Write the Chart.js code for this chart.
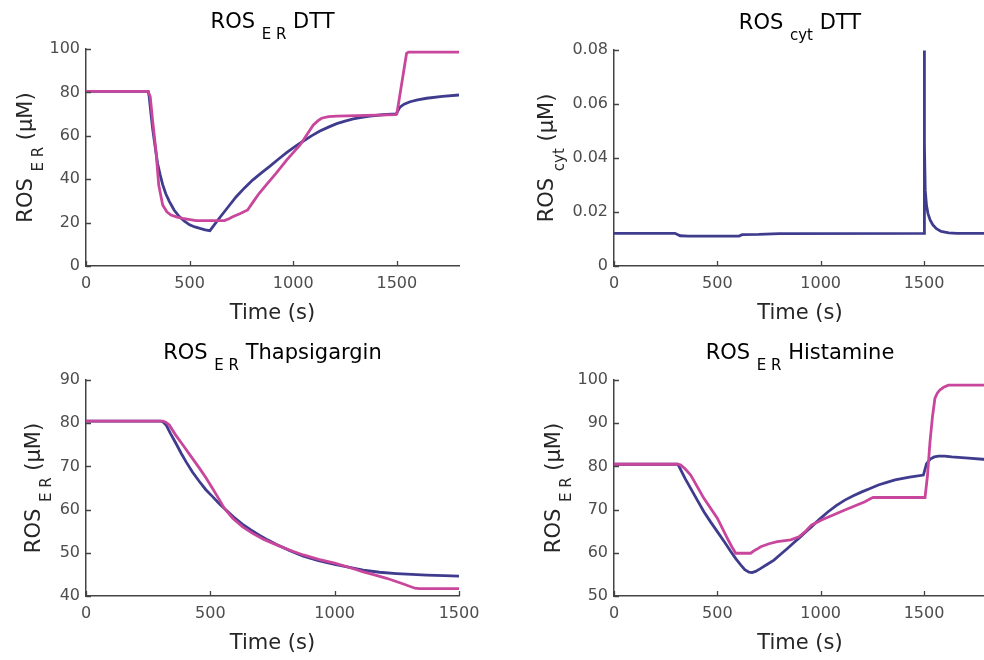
<!DOCTYPE html>
<html>
<head>
<meta charset="utf-8">
<script src="https://cdn.jsdelivr.net/npm/chart.js@4"></script>
<style>
  html, body { margin: 0; padding: 0; background: #fff; width: 984px; height: 660px; overflow: hidden; position: relative; }
  canvas { position: absolute; }
</style>
</head>
<body>
<canvas id="erDtt" width="492" height="330" style="left:0;top:0"></canvas>
<canvas id="cytDtt" width="520" height="330" style="left:492px;top:0"></canvas>
<canvas id="erThaps" width="492" height="330" style="left:0;top:330px"></canvas>
<canvas id="erHist" width="520" height="330" style="left:492px;top:330px"></canvas>
<script>
const BLUE = "#3f3c8e";
const PINK = "#c8469c";
const AXIS = "#444";

// ROS ER, DTT
const dttErBlueT = [0,300,305,314,322,330,338,346,358,370,385,402,425,450,475,500,525,550,575,598,643,680,724,765,804,845,888,928,968,1008,1049,1090,1129,1170,1210,1250,1290,1330,1370,1430,1497,1505,1515,1535,1564,1600,1644,1720,1800];
const dttErBlue  = [80.5,80.5,78,69.6,63,57.5,52,47,42,37.5,33.3,29.8,25.8,22.8,20.7,19,18,17.3,16.7,16.3,22,26.5,31.8,36,39.6,42.8,46,49.2,52.2,55,57.6,60.1,62.2,64,65.6,66.8,67.8,68.5,69.1,69.7,70.1,71.5,73.2,74.6,75.7,76.6,77.3,78.2,78.8];
const dttErPinkT = [0,300,310,322,338,351,370,390,410,440,466,531,668,690,708,745,780,810,836,875,917,968,1033,1097,1120,1137,1170,1210,1495,1500,1547,1556,1800];
const dttErPink  = [80.5,80.5,78,66.5,52.7,37.3,28.1,25,23.5,22.5,22,20.9,20.9,21.8,22.7,24.2,25.8,30,33.5,38,42.7,48.8,55.8,65,67,68.1,68.8,69.1,69.8,70.1,98,98.6,98.6];

// ROS cyt, DTT
const dttCytT = [0,295,320,360,590,605,620,700,800,1500,1501,1503,1506,1512,1519,1530,1543,1560,1583,1620,1660,1800];
const dttCyt  = [0.0121,0.0121,0.0112,0.0111,0.0111,0.0111,0.0116,0.0117,0.012,0.0121,0.0798,0.045,0.028,0.0225,0.0195,0.017,0.0152,0.0138,0.0128,0.0123,0.0121,0.0121];

// ROS ER, Thapsigargin
const thapsBlueT = [0,300,310,322,340,362,382,402,428,456,482,509,535,563,595,630,663,697,730,764,820,874,935,1000,1060,1115,1180,1249,1310,1370,1440,1500];
const thapsBlue  = [80.5,80.5,80.3,79.6,77.6,75.3,73.1,71.1,68.7,66.5,64.6,63,61.4,59.9,58.2,56.6,55.3,54.1,53,52,50.5,49.2,48.2,47.3,46.6,46,45.5,45.2,45,44.85,44.7,44.6];
const thapsPinkT = [0,310,322,335,360,389,420,456,483,509,533,556,590,630,670,715,764,820,874,935,1000,1060,1115,1160,1209,1265,1323,1340,1500];
const thapsPink  = [80.5,80.5,80.2,79.6,77.3,75,72.5,69.6,67.3,64.9,62.6,60.3,58,56,54.5,53.1,51.9,50.6,49.5,48.5,47.6,46.6,45.6,44.9,44.1,43,41.8,41.7,41.7];

// ROS ER, Histamine
const histBlueT = [0,306,315,323,345,371,403,435,468,500,533,565,590,613,633,653,668,685,710,740,774,805,839,867,895,925,955,995,1036,1077,1117,1158,1199,1239,1279,1320,1360,1430,1497,1503,1512,1530,1550,1570,1600,1634,1715,1800];
const histBlue  = [80.5,80.5,80,79.2,77.1,74.9,72.2,69.5,67.1,64.9,62.6,60.3,58.6,57.2,56.1,55.5,55.4,55.7,56.4,57.3,58.3,59.6,61,62.2,63.4,64.7,66,67.8,69.5,71,72.2,73.2,74.1,74.9,75.7,76.3,76.9,77.5,78,79,80.6,81.7,82.2,82.4,82.4,82.2,81.9,81.6];
const histPinkT = [0,310,323,345,371,435,500,548,570,589,661,675,690,710,750,790,855,895,925,955,1004,1117,1214,1240,1254,1505,1517,1529,1541,1553,1565,1577,1595,1618,1800];
const histPink  = [80.5,80.5,80.3,79.4,78,72.6,68,63.4,61.4,59.9,59.9,60.4,60.8,61.4,62.1,62.6,63,63.7,64.9,66.4,67.6,69.9,71.8,72.5,72.8,72.8,78,85.7,91.5,95.8,97,97.7,98.3,98.8,98.8];

const xTicks = [0, 500, 1000, 1500];
const yTicksEr = [0, 20, 40, 60, 80, 100];
const yTicksCyt = [0, 0.02, 0.04, 0.06, 0.08];
const yTicksThaps = [40, 50, 60, 70, 80, 90];
const yTicksHist = [50, 60, 70, 80, 90, 100];

const MAIN_FONT = "21px 'DejaVu Sans'";
const SUB_FONT = "15px 'DejaVu Sans'";

function zip(t, v) {
  return t.map((x, i) => ({ x, y: v[i] }));
}

function drawRich(ctx, parts, cx, y, color) {
  const widths = parts.map(p => {
    ctx.font = p.sub ? SUB_FONT : MAIN_FONT;
    return ctx.measureText(p.s).width;
  });
  let x = cx - widths.reduce((a, b) => a + b, 0) / 2;
  ctx.fillStyle = color;
  ctx.textAlign = "left";
  ctx.textBaseline = "alphabetic";
  parts.forEach((p, i) => {
    ctx.font = p.sub ? SUB_FONT : MAIN_FONT;
    ctx.fillText(p.s, x, p.sub ? y + 11 : y);
    x += widths[i];
  });
}

// MATLAB style ticks pointing into the plot
const innerTicks = {
  id: "innerTicks",
  afterDatasetsDraw(chart) {
    const { ctx, chartArea: a, scales: { x, y } } = chart;
    ctx.save();
    ctx.strokeStyle = AXIS;
    ctx.lineWidth = 1.3;
    ctx.beginPath();
    x.ticks.forEach(t => {
      const px = Math.round(x.getPixelForValue(t.value)) + 0.5;
      ctx.moveTo(px, a.bottom);
      ctx.lineTo(px, a.bottom - 5);
    });
    y.ticks.forEach(t => {
      const py = Math.round(y.getPixelForValue(t.value)) + 0.5;
      ctx.moveTo(a.left, py);
      ctx.lineTo(a.left + 5, py);
    });
    ctx.stroke();
    ctx.restore();
  }
};

function textPlugin(title, yLabel, yOff) {
  return {
    id: "rosText",
    afterDraw(chart) {
      const { ctx, chartArea: a } = chart;
      const cx = (a.left + a.right) / 2;
      ctx.save();
      drawRich(ctx, title, cx, a.top - 21, "#000");
      drawRich(ctx, [{ s: "Time (s)" }], cx, a.bottom + 53, "#262626");
      ctx.translate(a.left - yOff, (a.top + a.bottom) / 2);
      ctx.rotate(-Math.PI / 2);
      drawRich(ctx, yLabel, 0, 0, "#262626");
      ctx.restore();
    }
  };
}

function makeChart(id, cfg) {
  const tickFont = { family: "'DejaVu Sans'", size: 16 };
  return new Chart(document.getElementById(id), {
    type: "line",
    data: {
      // first dataset is drawn on top, so magenta goes first
      datasets: cfg.series.map(s => ({
        data: zip(s.t, s.v),
        borderColor: s.color,
        borderWidth: 2.8,
        pointRadius: 0,
        tension: 0,
        fill: false
      }))
    },
    options: {
      responsive: false,
      animation: false,
      layout: { padding: { top: cfg.top, right: cfg.right, left: 0, bottom: 0 } },
      plugins: { legend: { display: false }, tooltip: { enabled: false } },
      scales: {
        x: {
          type: "linear", min: 0, max: cfg.xMax,
          grid: { display: false, drawTicks: false },
          border: { color: AXIS, width: 1.5 },
          ticks: { font: tickFont, color: "#4d4d4d", padding: 8, maxRotation: 0, callback: v => String(v) },
          afterBuildTicks: s => { s.ticks = xTicks.map(v => ({ value: v })); },
          afterFit: s => { s.height = 64; }
        },
        y: {
          min: cfg.yTicks[0], max: cfg.yTicks[cfg.yTicks.length - 1],
          grid: { display: false, drawTicks: false },
          border: { color: AXIS, width: 1.5 },
          ticks: { font: tickFont, color: "#4d4d4d", padding: 6, callback: v => String(v) },
          afterBuildTicks: s => { s.ticks = cfg.yTicks.map(v => ({ value: v })); },
          afterFit: s => { s.width = cfg.yWidth; }
        }
      }
    },
    plugins: [innerTicks, textPlugin(cfg.title, cfg.yLabel, cfg.yOff)]
  });
}

const erLabel = [{ s: "ROS " }, { s: "E R", sub: true }, { s: " (\u03bcM)" }];

makeChart("erDtt", {
  top: 49, right: 33, yWidth: 86, xMax: 1800, yTicks: yTicksEr, yOff: 54,
  title: [{ s: "ROS " }, { s: "E R", sub: true }, { s: " DTT" }],
  yLabel: erLabel,
  series: [
    { t: dttErPinkT, v: dttErPink, color: PINK },
    { t: dttErBlueT, v: dttErBlue, color: BLUE }
  ]
});

makeChart("cytDtt", {
  top: 50, right: 26, yWidth: 122, xMax: 1800, yTicks: yTicksCyt, yOff: 61,
  title: [{ s: "ROS " }, { s: "cyt", sub: true }, { s: " DTT" }],
  yLabel: [{ s: "ROS " }, { s: "cyt", sub: true }, { s: " (\u03bcM)" }],
  series: [{ t: dttCytT, v: dttCyt, color: BLUE }]
});

makeChart("erThaps", {
  top: 50, right: 33, yWidth: 86, xMax: 1500, yTicks: yTicksThaps, yOff: 46,
  title: [{ s: "ROS " }, { s: "E R", sub: true }, { s: " Thapsigargin" }],
  yLabel: erLabel,
  series: [
    { t: thapsPinkT, v: thapsPink, color: PINK },
    { t: thapsBlueT, v: thapsBlue, color: BLUE }
  ]
});

makeChart("erHist", {
  top: 50, right: 26, yWidth: 122, xMax: 1800, yTicks: yTicksHist, yOff: 54,
  title: [{ s: "ROS " }, { s: "E R", sub: true }, { s: " Histamine" }],
  yLabel: erLabel,
  series: [
    { t: histPinkT, v: histPink, color: PINK },
    { t: histBlueT, v: histBlue, color: BLUE }
  ]
});
</script>
</body>
</html>
